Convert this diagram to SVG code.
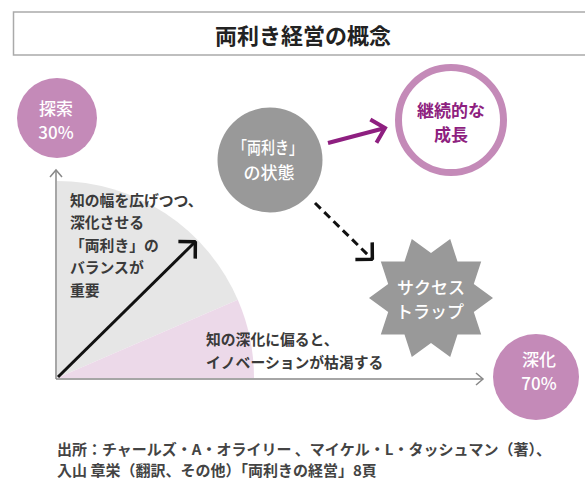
<svg xmlns="http://www.w3.org/2000/svg" width="585" height="480" viewBox="0 0 585 480">
<style>
text{font-family:"Noto Sans CJK JP","Noto Sans",sans-serif;}
.w{fill:#fff;font-size:17px;text-anchor:middle;font-weight:500;}
.b{fill:#3a3a3a;font-size:14.8px;font-weight:bold;}
.f{fill:#444;font-size:15px;font-weight:bold;}
.g{fill:#8e1f80;font-size:17px;text-anchor:middle;font-weight:bold;}
.axis{stroke:#888;stroke-width:1.5;fill:none;}
</style>
<defs>
<marker id="axh" markerWidth="12" markerHeight="14" refX="9" refY="7" orient="auto" markerUnits="userSpaceOnUse">
<path d="M2,1 L9,7 L2,13" fill="none" stroke="#888" stroke-width="1.5"/>
</marker>
<marker id="blk" markerWidth="16" markerHeight="28" refX="13" refY="14" orient="auto" markerUnits="userSpaceOnUse">
<path d="M1.5,2 L13,13.5 L13,14.5 L1.5,26" fill="none" stroke="#111" stroke-width="3.5"/>
</marker>
<marker id="pur" markerWidth="18" markerHeight="30" refX="14" refY="15" orient="auto" markerUnits="userSpaceOnUse">
<path d="M2,3 L14,15 L2,27" fill="none" stroke="#8e1f80" stroke-width="4"/>
</marker>
</defs>
<rect x="13.5" y="12" width="580" height="43" fill="#fff" stroke="#aaa" stroke-width="1.5"/>
<text x="303" y="44" text-anchor="middle" font-size="22" font-weight="bold" fill="#222">両利き経営の概念</text>
<g id="chart">
<path d="M57,378 L237.8,299.8 A197,197 0 0 0 57,181 Z" fill="#e6e6e6"/>
<path d="M57,378 L254,378 A197,197 0 0 0 237.8,299.8 Z" fill="#ecd9e9"/>
<text class="b" x="70" y="206">知の幅を広げつつ、</text>
<text class="b" x="70" y="228">深化させる</text>
<text class="b" x="70" y="251">「両利き」の</text>
<text class="b" x="70" y="273">バランスが</text>
<text class="b" x="70" y="296">重要</text>
<text class="b" x="206" y="345">知の深化に偏ると、</text>
<text class="b" x="206" y="368">イノベーションが枯渇する</text>
</g>
<g id="connectors">
<line class="axis" x1="56" y1="379" x2="56" y2="170" marker-end="url(#axh)"/>
<line class="axis" x1="56" y1="379" x2="483" y2="379" marker-end="url(#axh)"/>
<line x1="58" y1="377" x2="195" y2="242" stroke="#111" stroke-width="3" marker-end="url(#blk)"/>
<line x1="328" y1="143" x2="385" y2="128" stroke="#8e1f80" stroke-width="4" marker-end="url(#pur)"/>
<line x1="315" y1="203" x2="372" y2="259" stroke="#111" stroke-width="3" stroke-dasharray="8,5" marker-end="url(#blk)"/>
</g>
<g id="explore">
<circle cx="57" cy="118" r="40" fill="#c48ab8"/>
<text class="w" x="56" y="115">探索</text>
<text class="w" x="56" y="139">30%</text>
</g>
<g id="state">
<circle cx="270" cy="160" r="52.5" fill="#999"/>
<text class="w" x="268" y="154" textLength="70" lengthAdjust="spacingAndGlyphs">「両利き」</text>
<text class="w" x="269" y="179">の状態</text>
</g>
<g id="growth">
<circle cx="451" cy="120" r="52.5" fill="#fff" stroke="#c48ab8" stroke-width="7"/>
<text class="g" x="451" y="117">継続的な</text>
<text class="g" x="451" y="141">成長</text>
</g>
<g id="trap">
<path d="M493,298 L473.8,311.9 L481.2,334.4 L457.5,334.4 L450.2,357 L431,343 L411.8,357 L404.5,334.4 L380.8,334.4 L388.2,311.9 L369,298 L388.2,284.1 L380.8,261.6 L404.5,261.6 L411.8,239 L431,253 L450.2,239 L457.5,261.6 L481.2,261.6 L473.8,284.1 Z" fill="#999"/>
<text class="w" x="431" y="294">サクセス</text>
<text class="w" x="430" y="318">トラップ</text>
</g>
<g id="deep">
<circle cx="536" cy="377" r="43" fill="#c48ab8"/>
<text class="w" x="539" y="366">深化</text>
<text class="w" x="539" y="390">70%</text>
</g>
<g id="source">
<text class="f" x="57" y="455">出所：チャールズ・A・オライリー 、マイケル・L・タッシュマン（著）、</text>
<text class="f" x="57" y="476">入山 章栄（翻訳、その他）「両利きの経営」8頁</text>
</g>
</svg>
